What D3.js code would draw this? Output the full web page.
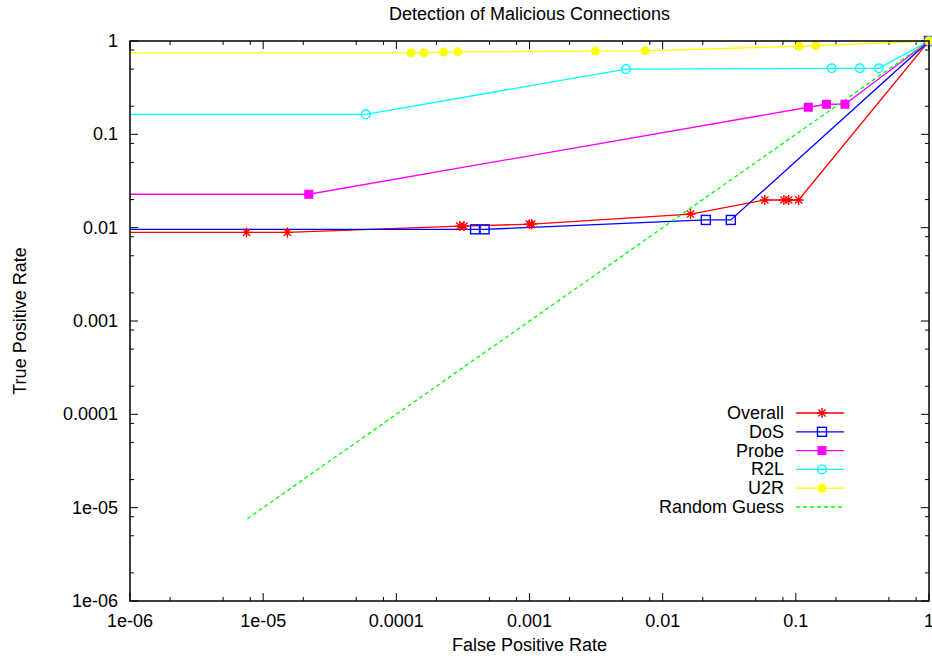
<!DOCTYPE html>
<html>
<head>
<meta charset="utf-8">
<script src="https://cdn.jsdelivr.net/npm/d3@7"></script>
<style>
  html, body { margin: 0; padding: 0; background: #fff; overflow: hidden; }
  svg { display: block; }
  text { font-family: "Liberation Sans", Arial, sans-serif; }
</style>
</head>
<body>
<div class="chart"></div>
<script>
const width = 932
const height = 659

// series (x = false positive rate, y = true positive rate)
const overallX = [1e-7, 7.5e-6, 1.52e-5, 3.0e-4, 3.22e-4, 1.0e-3, 1.04e-3, 0.0162, 0.0585, 0.0813, 0.0885, 0.105, 1]
const overallY = [0.0089, 0.0089, 0.0089, 0.0104, 0.0104, 0.0109, 0.0109, 0.014, 0.0198, 0.0198, 0.0198, 0.0198, 1]
const dosX = [1e-7, 3.9e-4, 4.6e-4, 0.0211, 0.0325, 1]
const dosY = [0.0096, 0.0096, 0.0096, 0.0121, 0.0121, 1]
const probeX = [1e-7, 2.2e-5, 0.124, 0.170, 0.234, 1]
const probeY = [0.0228, 0.0228, 0.195, 0.21, 0.21, 1]
const r2lX = [1e-7, 5.9e-5, 5.3e-3, 0.186, 0.302, 0.42, 1]
const r2lY = [0.164, 0.164, 0.5, 0.51, 0.51, 0.51, 1]
const u2rX = [1e-7, 1.29e-4, 1.61e-4, 2.27e-4, 2.90e-4, 3.13e-3, 7.39e-3, 0.106, 0.141, 1]
const u2rY = [0.745, 0.745, 0.75, 0.76, 0.765, 0.78, 0.785, 0.88, 0.89, 1]
const randomX = [7.6e-6, 1]
const randomY = [7.6e-6, 1]

const tickValues = [1e-6, 1e-5, 1e-4, 1e-3, 1e-2, 1e-1, 1]
const tickLabels = ["1e-06", "1e-05", "0.0001", "0.001", "0.01", "0.1", "1"]

const series = [
    {name: "Overall", xs: overallX, ys: overallY, color: "#ff0000", mark: "star"},
    {name: "DoS", xs: dosX, ys: dosY, color: "#0000ff", mark: "square"},
    {name: "Probe", xs: probeX, ys: probeY, color: "#ff00ff", mark: "fsquare"},
    {name: "R2L", xs: r2lX, ys: r2lY, color: "#00ffff", mark: "circle"},
    {name: "U2R", xs: u2rX, ys: u2rY, color: "#ffff00", mark: "fcircle"},
    {name: "Random Guess", xs: randomX, ys: randomY, color: "#00ff00", mark: null, dash: "4,3"},
]

const fontSize = "18px"
const margin = {top: 41, right: 3, bottom: 58, left: 130}
const innerWidth = width - margin.left - margin.right
const innerHeight = height - margin.top - margin.bottom

const svg = d3.select(".chart").append("svg")
    .attr("width", width)
    .attr("height", height)

const xScale = d3.scaleLog().domain([1e-6, 1]).range([0, innerWidth])
const yScale = d3.scaleLog().domain([1e-6, 1]).range([innerHeight, 0])

svg.append("defs").append("clipPath").attr("id", "clip")
    .append("rect").attr("width", innerWidth).attr("height", innerHeight)

const g = svg.append("g").attr("transform", `translate(${margin.left}, ${margin.top})`)

// minor ticks at 2, 5, 8 per decade
const minor = []
tickValues.slice(0, -1).forEach(v => [2, 5, 8].forEach(m => minor.push(v * m)))

const tickG = g.append("g").attr("stroke", "#000").attr("stroke-width", 1)
tickValues.forEach(v => {
    const x = xScale(v), y = yScale(v)
    tickG.append("line").attr("x1", x).attr("x2", x).attr("y1", innerHeight).attr("y2", innerHeight - 8)
    tickG.append("line").attr("x1", x).attr("x2", x).attr("y1", 0).attr("y2", 8)
    tickG.append("line").attr("x1", 0).attr("x2", 8).attr("y1", y).attr("y2", y)
    tickG.append("line").attr("x1", innerWidth).attr("x2", innerWidth - 8).attr("y1", y).attr("y2", y)
})
minor.forEach(v => {
    const x = xScale(v), y = yScale(v)
    tickG.append("line").attr("x1", x).attr("x2", x).attr("y1", innerHeight).attr("y2", innerHeight - 4)
    tickG.append("line").attr("x1", x).attr("x2", x).attr("y1", 0).attr("y2", 4)
    tickG.append("line").attr("x1", 0).attr("x2", 4).attr("y1", y).attr("y2", y)
    tickG.append("line").attr("x1", innerWidth).attr("x2", innerWidth - 4).attr("y1", y).attr("y2", y)
})

// tick labels
g.selectAll(".xlab").data(tickValues).enter().append("text")
    .attr("class", "xlab")
    .attr("x", d => xScale(d))
    .attr("y", innerHeight + 26)
    .attr("text-anchor", "middle")
    .style("font-size", fontSize)
    .text((d, i) => tickLabels[i])

g.selectAll(".ylab").data(tickValues).enter().append("text")
    .attr("class", "ylab")
    .attr("x", -12)
    .attr("y", d => yScale(d) + 6)
    .attr("text-anchor", "end")
    .style("font-size", fontSize)
    .text((d, i) => tickLabels[i])

// lines
const plot = g.append("g").attr("clip-path", "url(#clip)")
const line = d3.line().x(d => xScale(d[0])).y(d => yScale(d[1]))

function drawMark(sel, type, color) {
    if (type === "star") {
        const p = "M-5,0H5M0,-5V5M-3.6,-3.6L3.6,3.6M-3.6,3.6L3.6,-3.6"
        sel.append("path").attr("d", p).attr("stroke", color).attr("stroke-width", 1.4).attr("fill", "none")
    } else if (type === "square") {
        sel.append("rect").attr("x", -4.5).attr("y", -4.5).attr("width", 9).attr("height", 9)
            .attr("fill", "none").attr("stroke", color).attr("stroke-width", 1.4)
    } else if (type === "fsquare") {
        sel.append("rect").attr("x", -4.5).attr("y", -4.5).attr("width", 9).attr("height", 9)
            .attr("fill", color)
    } else if (type === "circle") {
        sel.append("circle").attr("r", 4.3).attr("fill", "none").attr("stroke", color).attr("stroke-width", 1.4)
    } else if (type === "fcircle") {
        sel.append("circle").attr("r", 4.5).attr("fill", color)
    }
}

series.forEach(s => {
    const pts = s.xs.map((x, i) => [x, s.ys[i]])
    plot.append("path")
        .attr("d", line(pts))
        .attr("fill", "none")
        .attr("stroke", s.color)
        .attr("stroke-width", 1.3)
        .attr("stroke-dasharray", s.dash || null)
    if (s.mark) {
        pts.filter(p => p[0] >= 1e-6).forEach(p => {
            const m = g.append("g").attr("transform", `translate(${xScale(p[0])},${yScale(p[1])})`)
            drawMark(m, s.mark, s.color)
        })
    }
})

// frame
g.append("rect").attr("width", innerWidth).attr("height", innerHeight)
    .attr("fill", "none").attr("stroke", "#000").attr("stroke-width", 1.5)

// legend
const legend = g.append("g").attr("transform", `translate(${784 - margin.left}, ${413 - margin.top})`)
series.forEach((s, i) => {
    const row = legend.append("g").attr("transform", `translate(0, ${i * 18.8})`)
    row.append("text").attr("x", 0).attr("y", 6).attr("text-anchor", "end")
        .style("font-size", fontSize).text(s.name)
    row.append("line").attr("x1", 12).attr("x2", 60).attr("y1", 0).attr("y2", 0)
        .attr("stroke", s.color).attr("stroke-width", 1.3).attr("stroke-dasharray", s.dash || null)
    if (s.mark) {
        const m = row.append("g").attr("transform", "translate(38,0)")
        drawMark(m, s.mark, s.color)
    }
})

// titles
svg.append("text").attr("x", margin.left + innerWidth / 2).attr("y", 20)
    .attr("text-anchor", "middle").style("font-size", fontSize)
    .text("Detection of Malicious Connections")

svg.append("text").attr("x", margin.left + innerWidth / 2).attr("y", height - 8)
    .attr("text-anchor", "middle").style("font-size", fontSize)
    .text("False Positive Rate")

svg.append("text")
    .attr("transform", `translate(26, ${margin.top + innerHeight / 2}) rotate(-90)`)
    .attr("text-anchor", "middle").style("font-size", fontSize)
    .text("True Positive Rate")
</script>
</body>
</html>
